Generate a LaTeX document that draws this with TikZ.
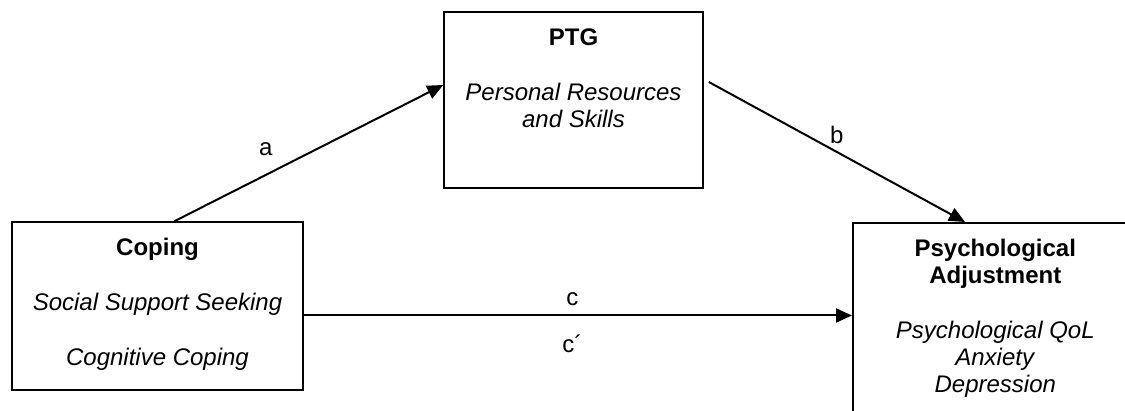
\documentclass[tikz,border=0pt]{standalone}
\usepackage{fontspec}
\setmainfont{Liberation Sans}
\usepackage{tikz}
\usetikzlibrary{arrows.meta,positioning}
\tikzstyle{box} = [draw, rectangle, line width=0.8pt, inner sep=0pt]
\tikzstyle{boxtext} = [align=center, inner sep=0pt]
\tikzstyle{link} = [line width=1pt, -{Triangle[length=8pt,width=7pt]}]

\begin{document}
\begin{tikzpicture}[x=0.5pt, y=-0.5pt, font=\fontsize{12}{13.5}\selectfont]
	\clip (0,0) rectangle (1125,411);
	\node [box, minimum width=145.5pt, minimum height=84pt] (Coping) at (157.5,306) {};
	\node [box, minimum width=129.5pt, minimum height=88pt] (PTG) at (573.5,100) {};
	\node [box, minimum width=142.5pt, minimum height=100pt, anchor=north west] (Adjustment) at (852,222) {};
	
	\node [boxtext, below=8.5pt of Coping.north] (CopingText) {\textbf{Coping}\\[14pt]\textit{Social Support Seeking}\\[14pt]\textit{Cognitive Coping}};
	\node [boxtext, below=8.5pt of PTG.north] (PTGText) {\textbf{PTG}\\[14pt]\textit{Personal Resources}\\\textit{and Skills}};
	\node [boxtext, below=8.5pt of Adjustment.north] (AdjustmentText) {\textbf{Psychological}\\\textbf{Adjustment}\\[14pt]\textit{Psychological QoL}\\\textit{Anxiety}\\\textit{Depression}};
	
	\draw [link] ([xshift=8.5pt]Coping.north) -- node [pos=0.34, above=5.5pt] {a} ([yshift=7.5pt]PTG.west);
	\draw [link] ([shift={(2.5pt,9pt)}]PTG.east) -- node [pos=0.5, above=0.5pt] {b} ([xshift=56.5pt]Adjustment.north west);
	\draw [link] ([yshift=-4.75pt]Coping.east) -- node [pos=0.49, above=1pt] {c} node [pos=0.49, below=6pt] {c\textasciiacute} ([yshift=-4.75pt]Coping.east -| Adjustment.west);
	
\end{tikzpicture}
\end{document}
